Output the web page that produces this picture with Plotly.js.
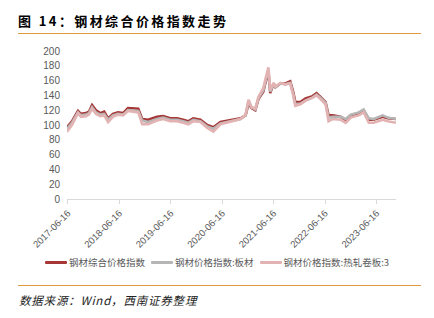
<!DOCTYPE html>
<html><head><meta charset="utf-8">
<script src="https://cdn.plot.ly/plotly-3.0.1.min.js"></script>
<style>
html,body{margin:0;padding:0;background:#fff;}
#wrap{position:relative;width:434px;height:318px;overflow:hidden;font-family:"Noto Sans CJK SC","Noto Sans",sans-serif;}
#chart{position:absolute;left:0;top:0;width:434px;height:318px;}
#title{position:absolute;left:18px;top:11px;font-size:13px;font-weight:bold;letter-spacing:2.4px;color:#000;white-space:nowrap;}
#line1{position:absolute;left:18px;top:33px;width:403px;height:0;border-top:1.5px solid #DE9A3C;}
#line2{position:absolute;left:18px;top:285px;width:403px;height:0;border-top:1.5px solid #DE9A3C;}
#src{position:absolute;left:19px;top:292px;font-size:11.5px;font-style:italic;color:#222;white-space:nowrap;letter-spacing:0.8px;}
#legend{position:absolute;left:0;width:434px;top:255px;height:14px;display:flex;justify-content:center;align-items:center;font-size:9.5px;color:#595959;white-space:nowrap;}
.item{display:flex;align-items:center;margin:0 3px;}
.sw{display:inline-block;width:22px;height:3px;margin-right:2px;border-radius:1px;}
</style></head>
<body>
<div id="wrap">
<div id="chart"></div>
<div id="title">图 14：钢材综合价格指数走势</div>
<div id="line1"></div>
<div id="legend"></div>
<div id="line2"></div>
<div id="src">数据来源：Wind，西南证券整理</div>
</div>
<script>
const dates = ["2017-06-09","2017-07-14","2017-08-26","2017-09-16","2017-10-22","2017-11-12","2017-12-04","2018-01-01","2018-01-31","2018-02-28","2018-03-28","2018-05-01","2018-06-06","2018-07-12","2018-08-16","2018-09-20","2018-10-28","2018-11-25","2019-01-06","2019-03-10","2019-04-22","2019-06-12","2019-07-31","2019-09-12","2019-10-18","2019-11-22","2020-01-12","2020-03-01","2020-04-13","2020-06-03","2020-08-13","2020-10-23","2020-11-28","2020-12-19","2021-01-09","2021-02-05","2021-02-27","2021-04-03","2021-04-18","2021-05-09","2021-05-22","2021-06-15","2021-06-28","2021-08-02","2021-09-06","2021-10-11","2021-11-01","2021-11-16","2021-12-22","2022-01-28","2022-03-18","2022-04-16","2022-05-14","2022-06-19","2022-07-10","2022-08-08","2022-10-04","2022-11-09","2022-12-15","2023-02-09","2023-03-16","2023-04-22","2023-05-26","2023-07-30","2023-09-03","2023-11-01"];
const composite = [97,105,119,115,116,118,127,120,116,118,109,115,117,116,123,123,122,108,107,111,112,109,109,107,105,109,107,100,97,104,106,109,113,129,123,120,135,145,157,172,143,156,151,156,156,159,145,131,131,136,139,143,138,131,113,113,111,107,113,116,120,107,107,111,109,108];
const plate = [95,103,117,113,114,116,124,117,114,115,107,113,115,114,120,120,119,106,104,108,110,107,107,105,103,107,105,98,95,102,105,108,113,133,124,121,136,147,159,174,145,156,151,156,155,157,142,128,129,133,137,141,137,130,110,111,111,108,114,117,121,109,108,113,110,108];
const hotRolled = [91,100,116,111,112,114,122,115,112,113,104,111,114,113,119,118,117,101,101,106,108,105,105,103,101,105,104,96,91,101,105,108,114,134,124,122,138,150,162,178,147,157,152,157,155,156,140,126,128,133,137,140,135,128,105,108,107,103,110,113,117,103,103,107,105,103];
const tickDates = ["2017-06-16","2018-06-16","2019-06-16","2020-06-16","2021-06-16","2022-06-16","2023-06-16"];
const yTicks = [0,20,40,60,80,100,120,140,160,180,200];
const names = ["钢材综合价格指数","钢材价格指数:板材","钢材价格指数:热轧卷板:3"];
const colors = ["#A63737","#B5B5B5","#E3B3B3"];

const series = [composite, plate, hotRolled];
const traces = series.map((s,i)=>({x:dates,y:s,name:names[i],type:"scatter",mode:"lines",line:{color:colors[i],width:2.6}}));
const layout = {
  width:434,height:318,
  margin:{l:67,r:38,t:51,b:119},
  paper_bgcolor:"#fff",plot_bgcolor:"#fff",
  font:{family:"Noto Sans CJK SC, Noto Sans, sans-serif",color:"#595959",size:10},
  showlegend:false,
  xaxis:{type:"date",range:[dates[0],dates[dates.length-1]],tickvals:tickDates,ticktext:tickDates,tickangle:-45,
    showgrid:false,zeroline:false,showline:true,linecolor:"#D9D9D9",linewidth:1,ticks:"outside",ticklen:4,tickcolor:"#D9D9D9",
    tickfont:{size:9.5,color:"#595959",family:"Liberation Sans, Arial, sans-serif"},fixedrange:true},
  yaxis:{range:[0,200],tickvals:yTicks,showgrid:false,zeroline:false,showline:false,ticks:"",
    tickfont:{size:10,color:"#595959",family:"Liberation Sans, Arial, sans-serif"},ticklabelstandoff:6,fixedrange:true}
};
Plotly.newPlot("chart",traces,layout,{displayModeBar:false,staticPlot:true});

const lg = document.getElementById("legend");
names.forEach((n,i)=>{
  const it=document.createElement("span"); it.className="item";
  const sw=document.createElement("span"); sw.className="sw"; sw.style.background=colors[i];
  const tx=document.createElement("span"); tx.textContent=n;
  it.appendChild(sw); it.appendChild(tx); lg.appendChild(it);
});
</script>
</body></html>
